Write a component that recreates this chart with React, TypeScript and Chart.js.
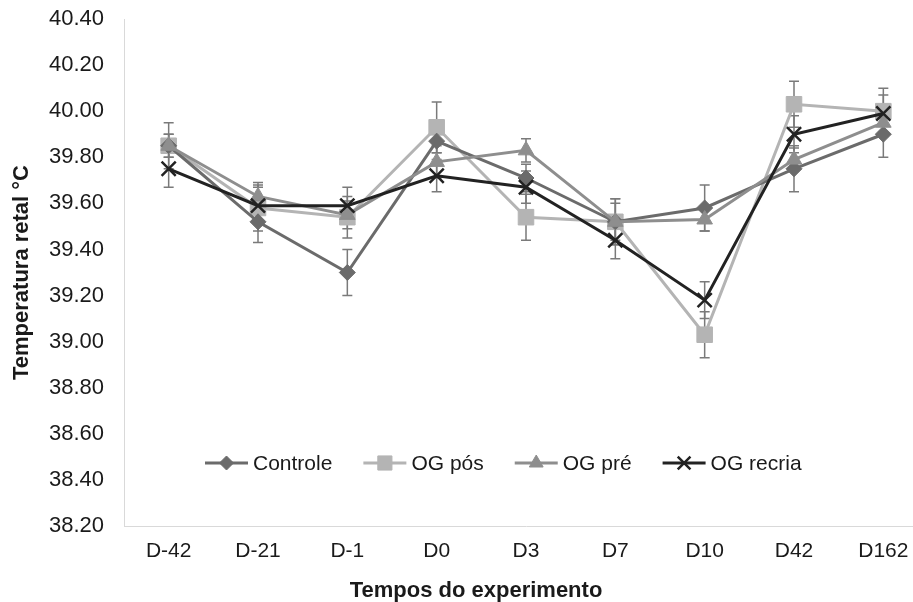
import React, { useEffect, useRef } from 'react';
import { Chart, registerables } from 'chart.js';
import { drawPoint } from 'chart.js/helpers';

Chart.register(...registerables);

const categories = ['D-42', 'D-21', 'D-1', 'D0', 'D3', 'D7', 'D10', 'D42', 'D162'];

const controle = [39.85, 39.52, 39.30, 39.87, 39.71, 39.52, 39.58, 39.75, 39.90];
const ogPos = [39.85, 39.58, 39.54, 39.93, 39.54, 39.52, 39.03, 40.03, 40.00];
const ogPre = [39.85, 39.63, 39.55, 39.78, 39.83, 39.52, 39.53, 39.79, 39.95];
const ogRecria = [39.75, 39.59, 39.59, 39.72, 39.67, 39.44, 39.18, 39.90, 39.99];

const controleErr = [0.05, 0.09, 0.10, 0.05, 0.06, 0.10, 0.10, 0.10, 0.10];
const ogPosErr = [0.10, 0.10, 0.09, 0.11, 0.10, 0.10, 0.10, 0.10, 0.10];
const ogPreErr = [0.05, 0.06, 0.06, 0.07, 0.05, 0.08, 0.05, 0.05, 0.06];
const ogRecriaErr = [0.08, 0.08, 0.08, 0.07, 0.07, 0.08, 0.08, 0.08, 0.08];

const seriesNames = ['Controle', 'OG pós', 'OG pré', 'OG recria'];
const seriesValues = [controle, ogPos, ogPre, ogRecria];
const seriesErrors = [controleErr, ogPosErr, ogPreErr, ogRecriaErr];
const seriesColors = ['#6b6b6b', '#b4b4b4', '#8e8e8e', '#222222'];
const seriesStyles = ['rectRot', 'rect', 'triangle', 'crossRot'];
const seriesRadii = [8, 11, 9, 10];
const seriesOrder = [2, 3, 1, 0];

const yMin = 38.2;
const yMax = 40.4;
const yStep = 0.2;

const yTitle = 'Temperatura retal °C';
const xTitle = 'Tempos do experimento';

const FONT = '"Liberation Sans", Arial, Helvetica, sans-serif';
const TEXT = '#1a1a1a';

const errorBarPlugin = {
  id: 'errorBars',
  beforeDatasetsDraw(chart: any) {
    const ctx = chart.ctx;
    const ys = chart.scales.y;
    ctx.save();
    ctx.strokeStyle = '#7a7a7a';
    ctx.lineWidth = 1.5;
    seriesValues.forEach((vals, i) => {
      const meta = chart.getDatasetMeta(i);
      meta.data.forEach((pt: any, j: number) => {
        const e = seriesErrors[i][j];
        const yt = ys.getPixelForValue(vals[j] + e);
        const yb = ys.getPixelForValue(vals[j] - e);
        ctx.beginPath();
        ctx.moveTo(pt.x, yt);
        ctx.lineTo(pt.x, yb);
        ctx.moveTo(pt.x - 5, yt);
        ctx.lineTo(pt.x + 5, yt);
        ctx.moveTo(pt.x - 5, yb);
        ctx.lineTo(pt.x + 5, yb);
        ctx.stroke();
      });
    });
    ctx.restore();
  },
};

const legendPlugin = {
  id: 'innerLegend',
  afterDraw(chart: any) {
    const ctx = chart.ctx;
    const ca = chart.chartArea;
    const y = ca.bottom - 63;
    let x = ca.left + 81;
    ctx.save();
    ctx.font = `21px ${FONT}`;
    ctx.textBaseline = 'middle';
    ctx.textAlign = 'left';
    seriesNames.forEach((name, i) => {
      const c = seriesColors[i];
      ctx.strokeStyle = c;
      ctx.lineWidth = 3;
      ctx.beginPath();
      ctx.moveTo(x, y);
      ctx.lineTo(x + 43, y);
      ctx.stroke();
      ctx.fillStyle = c;
      ctx.lineWidth = seriesStyles[i] === 'crossRot' ? 2.5 : 1;
      drawPoint(ctx, { pointStyle: seriesStyles[i] as any, radius: seriesRadii[i] - 1, rotation: 0, borderWidth: seriesStyles[i] === 'crossRot' ? 2.5 : 1 }, x + 21.5, y);
      ctx.fillStyle = TEXT;
      ctx.fillText(name, x + 48, y + 1);
      x += 48 + ctx.measureText(name).width + 31;
    });
    ctx.restore();
  },
};

const xTitlePlugin = {
  id: 'xTitleCentered',
  afterDraw(chart: any) {
    const ctx = chart.ctx;
    ctx.save();
    ctx.font = `bold 22px ${FONT}`;
    ctx.fillStyle = TEXT;
    ctx.textAlign = 'center';
    ctx.textBaseline = 'middle';
    ctx.fillText(xTitle, chart.width / 2, chart.chartArea.bottom + 65);
    ctx.restore();
  },
};

export default function App() {
  const ref = useRef<HTMLCanvasElement | null>(null);

  useEffect(() => {
    if (!ref.current) return;
    const chart = new Chart(ref.current, {
      type: 'line',
      data: {
        labels: categories,
        datasets: seriesNames.map((name, i) => ({
          label: name,
          data: seriesValues[i],
          borderColor: seriesColors[i],
          backgroundColor: seriesColors[i],
          pointBackgroundColor: seriesColors[i],
          pointBorderColor: seriesColors[i],
          pointStyle: seriesStyles[i] as any,
          pointRadius: seriesRadii[i],
          pointBorderWidth: seriesStyles[i] === 'crossRot' ? 2.5 : 1,
          borderWidth: 3,
          tension: 0,
          fill: false,
          clip: false as any,
          order: seriesOrder[i],
        })),
      },
      options: {
        animation: false,
        responsive: true,
        maintainAspectRatio: false,
        layout: { autoPadding: false, padding: { top: 19, right: 24, left: 0, bottom: 36 } },
        plugins: {
          legend: { display: false },
          tooltip: { enabled: false },
          title: { display: false },
        },
        scales: {
          x: {
            type: 'category',
            offset: true,
            grid: { display: false, drawTicks: false },
            border: { display: true, color: '#d9d9d9', width: 1 },
            ticks: { color: TEXT, font: { family: FONT, size: 21 }, padding: 13, maxRotation: 0, autoSkip: false },
            afterFit(scale: any) { scale.height = 40; },
          },
          y: {
            min: yMin,
            max: yMax,
            grid: { display: false, drawTicks: false },
            border: { display: true, color: '#d9d9d9', width: 1 },
            ticks: {
              stepSize: yStep,
              color: TEXT,
              font: { family: FONT, size: 22 },
              padding: 20,
              callback: (v: any) => Number(v).toFixed(2),
            },
            title: {
              display: true,
              text: yTitle,
              color: TEXT,
              font: { family: FONT, size: 22, weight: 'bold' },
              padding: { top: 9, bottom: 0 },
            },
            afterFit(scale: any) {
              scale.width = 124;
              scale.paddingTop = 0;
              scale.paddingBottom = 0;
            },
          },
        },
      },
      plugins: [errorBarPlugin, legendPlugin, xTitlePlugin],
    });
    return () => chart.destroy();
  }, []);

  return (
    <div style={{ position: 'absolute', left: 0, top: 0, width: 913, height: 602, overflow: 'hidden', background: '#fff' }}>
      <div style={{ position: 'relative', width: 952, height: 602 }}>
        <canvas ref={ref} />
      </div>
    </div>
  );
}
